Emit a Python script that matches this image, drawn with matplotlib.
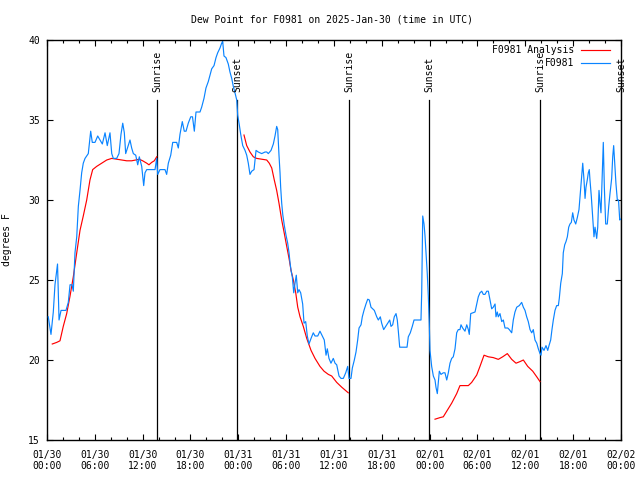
import numpy as np
import pandas as pd
import matplotlib
matplotlib.use("Agg")
import matplotlib.pyplot as plt
import matplotlib.dates as mdates

plt.rcParams['font.family'] = ['DejaVu Sans Mono']
plt.rcParams['font.size'] = 7

start = pd.Timestamp("2025-01-30 00:00")

# observed dew point (hours after 01/30 00:00 UTC, degrees F)
obs_hours = [0.16, 0.50, 0.79, 1.00, 1.32, 1.51, 1.76, 2.38, 2.67, 2.89, 3.14, 3.30, 3.51, 3.73, 3.93,
             4.14, 4.35, 4.55, 4.77, 5.18, 5.48, 5.68, 6.02, 6.36, 6.65, 6.94, 7.28, 7.56, 7.90, 8.12,
             8.32, 8.74, 9.03, 9.28, 9.50, 9.70, 9.87, 10.12, 10.41, 10.62, 10.83, 11.13, 11.38, 11.58,
             11.88, 12.13, 12.29, 12.51, 13.13, 13.55, 13.76, 13.89, 14.17, 14.80, 15.01, 15.22, 15.52,
             15.77, 16.27, 16.47, 16.68, 16.97, 17.22, 17.44, 17.72, 18.03, 18.25, 18.48, 18.69, 19.19,
             19.40, 19.69, 19.94, 20.23, 20.45, 20.66, 20.95, 21.20, 21.41, 21.70, 21.91, 22.04, 22.20,
             22.45, 22.74, 22.95, 23.17, 23.37, 23.58, 23.80, 23.92, 24.12, 24.30, 24.55, 24.84, 25.05,
             25.25, 25.46, 25.68, 25.97, 26.22, 26.50, 26.93, 27.35, 27.56, 27.76, 28.10, 28.39, 28.60,
             28.81, 28.94, 29.10, 29.23, 29.31, 29.44, 29.57, 29.77, 29.98, 30.19, 30.36, 30.48, 30.61,
             30.77, 30.95, 31.11, 31.27, 31.45, 31.61, 31.82, 32.07, 32.24, 32.45, 32.65, 32.86, 33.12,
             33.40, 33.62, 33.96, 34.24, 34.53, 34.78, 35.00, 35.16, 35.37, 35.62, 35.91, 36.13, 36.34,
             36.63, 36.88, 37.17, 37.47, 37.72, 37.88, 38.13, 38.30, 38.55, 38.76, 38.97, 39.14, 39.39,
             39.55, 39.76, 40.01, 40.23, 40.43, 40.64, 41.06, 41.36, 41.56, 41.81, 41.98, 42.23, 42.49,
             42.74, 42.99, 43.15, 43.36, 43.56, 43.78, 43.94, 44.07, 44.24, 45.16, 45.32, 45.57, 45.82,
             46.04, 46.91, 47.00, 47.13, 47.29, 47.41, 47.54, 47.70, 47.83, 47.95, 48.04, 48.25, 48.46,
             48.67, 48.79, 48.96, 49.08, 49.21, 49.42, 49.71, 49.92, 50.14, 50.34, 50.55, 50.76, 50.96,
             51.18, 51.39, 51.59, 51.80, 51.93, 52.14, 52.43, 52.65, 52.85, 52.97, 53.15, 53.47, 53.69,
             53.90, 54.10, 54.31, 54.53, 54.73, 54.94, 55.16, 55.36, 55.57, 55.78, 55.98, 56.20, 56.32,
             56.48, 56.61, 56.82, 57.04, 57.24, 57.45, 57.79, 57.99, 58.29, 58.49, 58.70, 58.92, 59.24,
             59.54, 59.75, 59.96, 60.17, 60.37, 60.59, 60.80, 61.00, 61.21, 61.43, 61.63, 61.84, 61.97,
             62.09, 62.34, 62.59, 62.81, 62.97, 63.18, 63.34, 63.51, 63.72, 63.93, 64.14, 64.26, 64.44,
             64.64, 64.76, 64.94, 65.10, 65.27, 65.44, 65.60, 65.77, 65.94, 66.10, 66.32, 66.52, 66.73,
             66.86, 67.07, 67.20, 67.36, 67.49, 67.61, 67.77, 67.90, 68.02, 68.11, 68.28, 68.45, 68.61,
             68.74, 68.95, 69.08, 69.24, 69.37, 69.49, 69.66, 69.78, 69.91, 70.08, 70.28, 70.46, 70.62,
             70.83, 70.96, 71.08, 71.21, 71.37, 71.54, 71.69, 71.84, 71.94]
obs_dewpt = [22.7, 21.6, 23.0, 24.7, 26.0, 22.5, 23.1, 23.1, 23.6, 24.7, 24.7, 24.3, 26.7, 27.7, 29.6,
             30.6, 31.7, 32.3, 32.6, 32.9, 34.3, 33.6, 33.6, 34.0, 33.75, 33.5, 34.2, 33.4, 34.2, 32.9,
             32.6, 32.6, 32.9, 34.1, 34.8, 34.2, 32.9, 33.3, 33.75, 33.25, 32.9, 32.8, 32.2, 32.7,
             32.1, 30.9, 31.7, 31.9, 31.9, 31.9, 32.6, 31.6, 31.9, 31.9, 31.6, 32.3, 32.8,
             33.6, 33.6, 33.25, 34.1, 34.9, 34.3, 34.3, 34.8, 35.2, 35.2, 34.3, 35.5, 35.5,
             35.8, 36.35, 37.0, 37.4, 37.8, 38.2, 38.4, 38.9, 39.2, 39.5, 39.8, 39.9, 39.0,
             38.9, 38.5, 38.0, 37.6, 37.1, 36.7, 36.25, 35.3, 34.7, 34.1, 33.4, 33.1, 32.8,
             32.3, 31.6, 31.8, 31.9, 33.1, 33.0, 32.9, 33.0, 33.0, 32.9, 33.1, 33.5, 34.0,
             34.6, 34.4, 32.8, 31.7, 30.8, 29.8, 29.1, 28.4, 27.8, 27.3, 26.7, 26.1, 25.6,
             25.2, 24.2, 24.8, 25.3, 24.2, 24.4, 24.2, 23.5, 22.3, 22.4, 21.5, 21.0, 21.35,
             21.7, 21.5, 21.5, 21.8, 21.5, 21.25, 20.3, 20.7, 20.1, 19.8, 20.1, 19.8, 19.7,
             19.0, 18.85, 18.85, 19.2, 19.6, 18.85, 18.85, 19.5, 20.0, 20.5, 21.25, 22.0, 22.2,
             22.7, 23.1, 23.5, 23.8, 23.75, 23.3, 23.1, 22.7, 22.5, 22.7, 22.3, 21.9, 22.1,
             22.3, 22.5, 22.1, 22.2, 22.7, 22.9, 22.5, 21.8, 20.8, 20.8, 21.45, 21.7, 22.1,
             22.5, 22.5, 24.2, 29.0, 28.5, 27.8, 26.7, 25.4, 24.0, 22.3, 20.6, 19.6, 19.0,
             18.75, 18.3, 17.9, 18.6, 19.3, 19.1, 19.2, 19.2, 18.75, 19.2, 19.8, 20.1, 20.2,
             20.7, 21.7, 21.9, 21.9, 22.2, 22.0, 21.8, 22.2, 21.9, 21.6, 22.9, 22.96, 23.0,
             23.5, 23.95, 24.2, 24.3, 24.1, 24.1, 24.3, 24.3, 23.75, 23.2, 23.3, 23.5, 22.7,
             23.0, 22.7, 22.9, 22.4, 22.5, 22.0, 22.0, 21.9, 21.7, 22.5, 23.0, 23.3, 23.4,
             23.6, 23.3, 23.1, 22.7, 22.4, 21.9, 21.7, 21.9, 21.25, 21.05, 20.7, 20.4, 20.3,
             20.8, 20.6, 20.9, 20.6, 20.9, 21.25, 21.9, 22.5, 23.1, 23.4, 23.4, 23.85, 24.8,
             25.4, 26.7, 27.2, 27.4, 27.7, 28.3, 28.5, 28.6, 29.2, 28.75, 28.5, 28.9, 29.4,
             30.2, 31.5, 32.3, 31.25, 30.1, 30.8, 31.25, 31.7, 31.9, 31.25, 30.2, 28.96, 27.7,
             28.3, 27.6, 28.3, 30.6, 29.8, 29.2, 31.7, 33.6, 30.8, 28.5, 28.5, 29.6, 30.4,
             31.35, 32.7, 33.4, 32.3, 31.0, 30.0, 30.0, 28.75, 28.8]

# analysis (shown only between sunset and sunrise)
ana_hours_1 = [0.66, 1.22, 1.63, 2.04, 2.47, 2.89, 3.30, 3.73, 4.14, 4.55, 4.98, 5.39, 5.73, 6.23,
               6.86, 7.49, 8.12, 8.74, 9.37, 10.00, 10.62, 11.13, 11.58, 12.00, 12.51, 12.79, 13.13,
               13.46, 13.76]
ana_dewpt_1 = [21.0, 21.1, 21.2, 22.1, 22.9, 24.0, 25.2, 26.7, 28.1, 29.0, 30.0, 31.25, 31.9, 32.1,
               32.3, 32.5, 32.6, 32.55, 32.5, 32.45, 32.45, 32.5, 32.55, 32.45, 32.3, 32.2, 32.35,
               32.45, 32.7]
ana_hours_2 = [24.71, 25.05, 25.46, 25.88, 26.30, 26.93, 27.56, 27.88, 28.19, 28.51, 28.81, 29.10,
               29.44, 29.77, 30.07, 30.36, 30.61, 30.90, 31.20, 31.45, 31.74, 32.15, 32.58, 33.12,
               33.62, 34.24, 34.75, 35.29, 35.71, 36.34, 36.97, 37.79]
ana_dewpt_2 = [34.06, 33.4, 33.0, 32.7, 32.6, 32.55, 32.5, 32.3, 32.0, 31.25, 30.6, 29.8, 28.75,
               27.9, 27.1, 26.35, 25.6, 25.0, 24.2, 23.3, 22.7, 22.1, 21.35, 20.6, 20.1, 19.6, 19.3,
               19.1, 19.0, 18.6, 18.3, 17.95]
ana_hours_3 = [48.67, 49.30, 49.71, 50.14, 50.76, 51.39, 51.80, 52.85, 53.27, 53.90, 54.31, 54.82,
               55.36, 55.98, 56.61, 57.16, 57.74, 58.29, 58.83, 59.33, 59.75, 60.30, 60.93, 61.43,
               61.84]
ana_dewpt_3 = [16.3, 16.4, 16.45, 16.8, 17.3, 17.9, 18.4, 18.4, 18.6, 19.06, 19.6, 20.3, 20.2,
               20.15, 20.04, 20.2, 20.4, 20.04, 19.8, 19.9, 20.0, 19.6, 19.3, 18.95, 18.65]

sun_hours = [13.80, 23.83, 37.88, 47.92, 61.84, 72.0]
sun_labels = ["Sunrise", "Sunset", "Sunrise", "Sunset", "Sunrise", "Sunset"]


def to_time(h):
    return start + pd.to_timedelta(np.array(h), unit="h")


fig = plt.figure(figsize=(6.4, 4.8), dpi=100)
ax = fig.add_axes([47 / 640, 40 / 480, 574 / 640, 400 / 480])

lw = 0.85
red = "#ff0000"
blue = "#0a84ff"

for hrs, vals in [(ana_hours_1, ana_dewpt_1), (ana_hours_2, ana_dewpt_2), (ana_hours_3, ana_dewpt_3)]:
    ax.plot(to_time(hrs), vals, color=red, lw=lw, zorder=3)
ax.plot(to_time(obs_hours), obs_dewpt, color=blue, lw=lw, zorder=3)

for h, lab in zip(sun_hours, sun_labels):
    t = to_time([h])[0]
    ax.axvline(t, ymin=0, ymax=0.85, color="black", lw=0.9, zorder=2)
    ax.text(t, 0.87, lab, transform=ax.get_xaxis_transform(), rotation=90,
            ha="center", va="bottom", fontsize=7, zorder=4)

ax.set_xlim(start, start + pd.Timedelta(hours=72))
ax.set_ylim(15, 40)
ax.set_yticks([15, 20, 25, 30, 35, 40])
ax.xaxis.set_major_locator(mdates.HourLocator(byhour=[0, 6, 12, 18]))
ax.xaxis.set_minor_locator(mdates.HourLocator(interval=2))
ax.xaxis.set_major_formatter(mdates.DateFormatter("%m/%d\n%H:%M"))

ax.tick_params(which="both", direction="in", top=True, right=True, width=0.8, color="black")
ax.tick_params(which="major", length=4.5, pad=7)
ax.tick_params(axis="y", which="major", pad=5)
ax.tick_params(which="minor", length=2.5)
ax.tick_params(axis="y", which="minor", length=0)
for s in ax.spines.values():
    s.set_linewidth(1.0)

ax.set_ylabel("degrees F", labelpad=12)
fig.text(332 / 640, 1 - 20 / 480, "Dew Point for F0981 on 2025-Jan-30 (time in UTC)",
         ha="center", va="center", fontsize=7)

# gnuplot-style key: right aligned text, sample line after it
key_rows = [("F0981 Analysis", red), ("F0981", blue)]
for i, (lab, col) in enumerate(key_rows):
    y = 0.975 - i * 0.0325
    ax.text(0.918, y, lab, transform=ax.transAxes, ha="right", va="center", fontsize=7, zorder=5)
    ax.plot([0.930, 0.981], [y, y], transform=ax.transAxes, color=col, lw=lw, zorder=5)

fig.savefig("out.png", dpi=100)
